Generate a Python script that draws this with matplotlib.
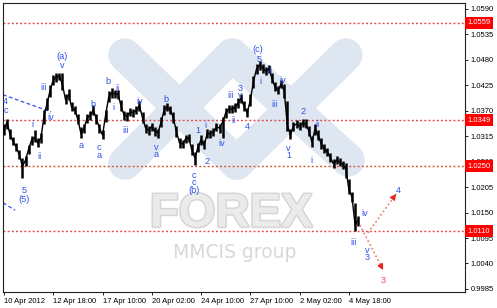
import matplotlib
matplotlib.use('Agg')
import matplotlib.pyplot as plt
import matplotlib.transforms as mtransforms
import matplotlib.patheffects as pe

# ---------------- data ----------------
close = [1.0328, 1.0345, 1.0317, 1.0302, 1.0291, 1.0274, 1.0250, 1.0263, 1.0287, 1.0307,
         1.0311, 1.0300, 1.0311, 1.0358, 1.0386, 1.0414, 1.0436, 1.0442, 1.0445, 1.0425,
         1.0393, 1.0404, 1.0376, 1.0371, 1.0350, 1.0320, 1.0332, 1.0354, 1.0360, 1.0371,
         1.0352, 1.0332, 1.0317, 1.0360, 1.0399, 1.0408, 1.0406, 1.0406, 1.0380, 1.0360,
         1.0358, 1.0367, 1.0365, 1.0371, 1.0380, 1.0354, 1.0332, 1.0328, 1.0335, 1.0326,
         1.0322, 1.0345, 1.0371, 1.0378, 1.0371, 1.0354, 1.0324, 1.0300, 1.0298, 1.0309,
         1.0311, 1.0285, 1.0268, 1.0291, 1.0307, 1.0296, 1.0320, 1.0320, 1.0324, 1.0335,
         1.0332, 1.0345, 1.0365, 1.0373, 1.0373, 1.0376, 1.0386, 1.0397, 1.0378, 1.0365,
         1.0393, 1.0432, 1.0460, 1.0468, 1.0462, 1.0455, 1.0460, 1.0440, 1.0421, 1.0414,
         1.0427, 1.0412, 1.0339, 1.0317, 1.0337, 1.0341, 1.0337, 1.0343, 1.0341, 1.0326,
         1.0302, 1.0330, 1.0317, 1.0298, 1.0287, 1.0281, 1.0268, 1.0255, 1.0263, 1.0259,
         1.0253, 1.0246, 1.0199, 1.0184, 1.0123, 1.0134]
high = [1.0340, 1.0352, 1.0330, 1.0312, 1.0300, 1.0285, 1.0268, 1.0272, 1.0296, 1.0315,
        1.0328, 1.0310, 1.0322, 1.0372, 1.0398, 1.0425, 1.0446, 1.0450, 1.0452, 1.0452,
        1.0405, 1.0416, 1.0388, 1.0380, 1.0362, 1.0335, 1.0342, 1.0362, 1.0368, 1.0382,
        1.0362, 1.0342, 1.0328, 1.0372, 1.0412, 1.0418, 1.0415, 1.0414, 1.0392, 1.0370,
        1.0366, 1.0376, 1.0374, 1.0380, 1.0390, 1.0366, 1.0342, 1.0336, 1.0344, 1.0334,
        1.0330, 1.0356, 1.0382, 1.0386, 1.0380, 1.0366, 1.0336, 1.0310, 1.0306, 1.0318,
        1.0320, 1.0298, 1.0280, 1.0300, 1.0318, 1.0306, 1.0330, 1.0328, 1.0332, 1.0344,
        1.0340, 1.0356, 1.0376, 1.0382, 1.0382, 1.0386, 1.0396, 1.0406, 1.0390, 1.0376,
        1.0406, 1.0445, 1.0470, 1.0476, 1.0470, 1.0464, 1.0468, 1.0452, 1.0432, 1.0422,
        1.0436, 1.0428, 1.0390, 1.0330, 1.0346, 1.0350, 1.0346, 1.0352, 1.0352, 1.0336,
        1.0314, 1.0340, 1.0328, 1.0310, 1.0298, 1.0290, 1.0278, 1.0265, 1.0272, 1.0268,
        1.0262, 1.0256, 1.0222, 1.0195, 1.0170, 1.0142]
low = [1.0318, 1.0330, 1.0308, 1.0295, 1.0282, 1.0265, 1.0224, 1.0250, 1.0276, 1.0296,
       1.0302, 1.0292, 1.0300, 1.0340, 1.0372, 1.0400, 1.0425, 1.0432, 1.0435, 1.0415,
       1.0385, 1.0392, 1.0368, 1.0362, 1.0340, 1.0310, 1.0322, 1.0344, 1.0350, 1.0360,
       1.0342, 1.0322, 1.0308, 1.0345, 1.0388, 1.0398, 1.0396, 1.0395, 1.0370, 1.0350,
       1.0348, 1.0358, 1.0356, 1.0362, 1.0370, 1.0344, 1.0322, 1.0318, 1.0326, 1.0316,
       1.0310, 1.0334, 1.0360, 1.0368, 1.0362, 1.0344, 1.0312, 1.0290, 1.0290, 1.0300,
       1.0302, 1.0275, 1.0253, 1.0280, 1.0296, 1.0286, 1.0310, 1.0310, 1.0314, 1.0326,
       1.0322, 1.0311, 1.0354, 1.0364, 1.0364, 1.0366, 1.0376, 1.0386, 1.0368, 1.0356,
       1.0380, 1.0418, 1.0448, 1.0458, 1.0452, 1.0446, 1.0450, 1.0430, 1.0412, 1.0406,
       1.0418, 1.0398, 1.0325, 1.0309, 1.0326, 1.0332, 1.0328, 1.0334, 1.0332, 1.0316,
       1.0291, 1.0318, 1.0306, 1.0288, 1.0278, 1.0272, 1.0258, 1.0246, 1.0254, 1.0250,
       1.0244, 1.0225, 1.0190, 1.0172, 1.0110, 1.0120]

x_tick_bars = [0, 16, 32, 48, 64, 80, 96, 112]
x_tick_labels = ['10 Apr 2012', '12 Apr 18:00', '17 Apr 10:00', '20 Apr 02:00',
                 '24 Apr 10:00', '27 Apr 10:00', '2 May 02:00', '4 May 18:00']
y_tick_values = [0.9985, 1.0040, 1.0095, 1.0150, 1.0205, 1.0260, 1.0315,
                 1.0370, 1.0425, 1.0480, 1.0535, 1.0590]
levels = [1.0559, 1.0349, 1.0250, 1.0110]

# wave labels: text, bar position, price, colour
BLUE = '#3152e6'
RED = '#f04848'
wave_labels = [
    ('(a)', 18.8, 1.0486, BLUE), ('v', 18.8, 1.0468, BLUE), ('iii', 12.7, 1.0419, BLUE),
    ('4', 0.3, 1.0389, BLUE), ('c', 0.6, 1.0369, BLUE), ('iv', 15.3, 1.0356, BLUE),
    ('i', 9.4, 1.0339, BLUE), ('ii', 11.4, 1.0270, BLUE), ('5', 6.5, 1.0197, BLUE),
    ('(5)', 6.5, 1.0177, BLUE), ('a', 25.0, 1.0294, BLUE), ('b', 28.9, 1.0382, BLUE),
    ('c', 30.8, 1.0291, BLUE), ('a', 30.8, 1.0272, BLUE), ('b', 33.8, 1.0432, BLUE),
    ('ii', 36.7, 1.0417, BLUE), ('i', 35.4, 1.0376, BLUE), ('iii', 39.6, 1.0328, BLUE),
    ('iv', 44.2, 1.0389, BLUE), ('b', 52.6, 1.0393, BLUE), ('v', 49.4, 1.0291, BLUE),
    ('a', 49.4, 1.0276, BLUE), ('c', 61.7, 1.0230, BLUE), ('c', 61.7, 1.0215, BLUE),
    ('(b)', 61.7, 1.0197, BLUE), ('2', 65.9, 1.0261, BLUE), ('1', 63.0, 1.0328, BLUE),
    ('i', 65.3, 1.0337, BLUE), ('iv', 70.8, 1.0298, BLUE), ('iii', 73.7, 1.0402, BLUE),
    ('3', 76.6, 1.0417, BLUE), ('v', 76.6, 1.0402, BLUE), ('ii', 74.4, 1.0348, BLUE),
    ('4', 78.9, 1.0335, BLUE), ('(c)', 82.5, 1.0501, BLUE), ('5', 82.8, 1.0481, BLUE),
    ('i', 83.4, 1.0432, BLUE), ('ii', 86.4, 1.0455, BLUE), ('iv', 90.6, 1.0434, BLUE),
    ('iii', 87.7, 1.0384, BLUE), ('2', 97.1, 1.0367, BLUE), ('ii', 101.9, 1.0339, BLUE),
    ('v', 92.2, 1.0289, BLUE), ('1', 92.5, 1.0274, BLUE), ('i', 99.7, 1.0263, BLUE),
    ('iv', 117.2, 1.0147, BLUE), ('iii', 113.6, 1.0086, BLUE), ('v', 117.9, 1.0069, BLUE),
    ('3', 117.9, 1.0052, BLUE), ('4', 127.9, 1.0197, BLUE), ('3', 123.1, 1.0004, RED),
]

# forecast arrows (start bar, start price, end bar, end price)
forecast_down = (115.6, 1.0123, 123.1, 1.0026)
forecast_up = (118.2, 1.0106, 127.3, 1.0190)
# old channel lines on the left
channel_a = ([-0.3, 15.3], [1.0404, 1.0367])
channel_b = ([-0.3, 3.6], [1.0171, 1.0155])

# ---------------- figure ----------------
W, H = 497, 308
fig = plt.figure(figsize=(W / 100, H / 100), dpi=100)
fig.patch.set_facecolor('white')
ax = fig.add_axes([3 / W, (H - 292) / H, 462 / W, 289 / H])
ax.set_facecolor('white')

ax.set_xlim(-0.32, 149.7)
ax.set_ylim(0.99785, 1.0602)

# watermark (logo bands in axes fraction)
band_col = '#dde6f1'
bands = [((0.264, 0.820), (0.506, 0.446)),
         ((0.264, 0.446), (0.496, 0.820)),
         ((0.496, 0.820), (0.747, 0.457)),
         ((0.506, 0.446), (0.742, 0.820))]
for (x0, y0), (x1, y1) in bands:
    ax.plot([x0, x1], [y0, y1], transform=ax.transAxes, color=band_col, lw=24,
            solid_capstyle='round', zorder=0.5)
ax.text(0.494, 0.268, 'FOREX', transform=ax.transAxes, ha='center', va='center',
        fontsize=34, fontweight='bold', color='#ebebeb',
        family=['Liberation Sans', 'DejaVu Sans'], zorder=0.6,
        path_effects=[pe.withStroke(linewidth=2.2, foreground='#d6d6d6')])
ax.text(0.502, 0.135, 'MMCIS group', transform=ax.transAxes, ha='center', va='center',
        fontsize=13.5, color='#d8d8d8', family='DejaVu Sans', zorder=0.6)

# horizontal levels
level_cols = ['#e5484d', '#e5484d', '#d4532e', '#e5484d']
for lv, c in zip(levels, level_cols):
    ax.axhline(lv, color=c, lw=1.0, dashes=(1.4, 1.6), zorder=1)

# price bars
xs = list(range(len(close)))
ax.vlines(xs, low, high, color='black', lw=1.8, zorder=3)
ax.plot(xs, close, color='black', lw=1.0, zorder=3)

# channel lines
ax.plot(*channel_a, color=BLUE, lw=0.9, dashes=(3, 2), zorder=2)
ax.plot(*channel_b, color=BLUE, lw=0.9, dashes=(3, 2), zorder=2)

# forecast arrows
for (sx, sy, ex, ey) in (forecast_down, forecast_up):
    ax.plot([sx, ex], [sy, ey], color='#f07a6a', lw=1.1, dashes=(1.2, 1.6), zorder=4)
    ax.annotate('', xy=(ex, ey), xytext=(sx + (ex - sx) * 0.9, sy + (ey - sy) * 0.9),
                arrowprops=dict(arrowstyle='-|>,head_length=0.35,head_width=0.18',
                                color='#e82020', lw=0.8), zorder=4)

# wave labels
for txt, xb, yp, col in wave_labels:
    ax.text(xb, yp, txt, ha='center', va='center', fontsize=6.6, color=col,
            family=['Liberation Sans', 'DejaVu Sans'], zorder=5)

# axes styling
for s in ax.spines.values():
    s.set_color('#202020')
    s.set_linewidth(0.8)
ax.yaxis.tick_right()
ax.set_yticks(y_tick_values, [f'{v:.4f}' for v in y_tick_values])
ax.set_xticks(x_tick_bars, x_tick_labels)
ax.tick_params(axis='both', direction='out', length=2.5, width=0.7, color='#202020',
               labelsize=5.5, pad=1.5)
for lbl in ax.get_xticklabels():
    lbl.set_ha('left')
    lbl.set_family(['Liberation Sans', 'DejaVu Sans'])
for lbl in ax.get_yticklabels():
    lbl.set_family(['Liberation Sans', 'DejaVu Sans'])

# red level price boxes on the right
trans = mtransforms.blended_transform_factory(ax.transAxes, ax.transData)
for lv in levels:
    ax.text(1.006, lv, f'{lv:.4f}', transform=trans, ha='left', va='center',
            fontsize=5.5, color='white', family=['Liberation Sans', 'DejaVu Sans'],
            bbox=dict(boxstyle='square,pad=0.3', fc='#ff0000', ec='none'),
            zorder=10, clip_on=False)

fig.savefig('out.png', dpi=100, facecolor='white')
